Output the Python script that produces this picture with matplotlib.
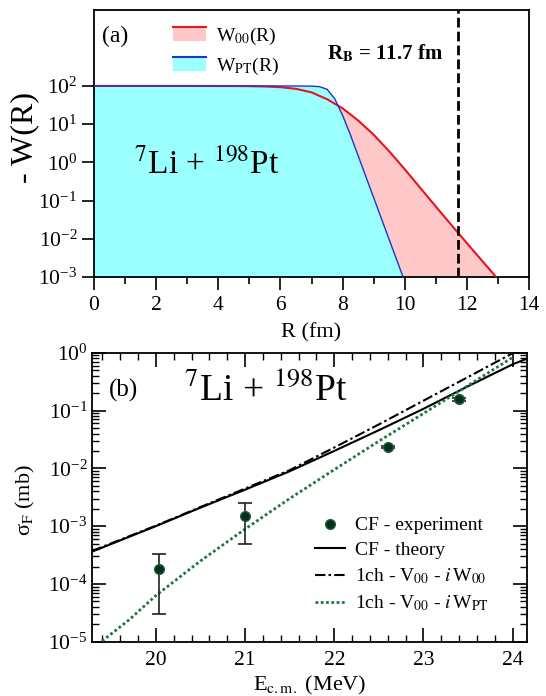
import matplotlib
matplotlib.use("Agg")
import matplotlib.pyplot as plt
import numpy as np
from matplotlib.ticker import (FixedLocator, MultipleLocator, LogLocator,
                               LogFormatterMathtext, NullFormatter)
from matplotlib.legend_handler import HandlerBase
from matplotlib.patches import Rectangle
from matplotlib.lines import Line2D

plt.rcParams['font.family'] = ['Liberation Serif', 'DejaVu Serif']
plt.rcParams['mathtext.fontset'] = 'stix'
plt.rcParams['axes.unicode_minus'] = False

# ---- panel (a): imaginary potentials ----
R_w00 = [0, 1, 2, 3, 4, 4.5, 5, 5.5, 6, 6.5, 7, 7.5, 8, 8.5, 9, 9.5,
         10, 10.5, 11, 11.5, 12, 12.5, 13, 13.5]
w00 = [100, 100, 100, 100, 99.8, 99.5, 98.8, 97, 93, 84, 68, 45, 26, 12.5,
       5.3, 1.95, 0.66, 0.215, 0.070, 0.023, 0.0077, 0.0026, 0.00088, 0.0003]

R_wpt = [0, 1, 2, 3, 4, 5, 6, 6.5, 7, 7.25, 7.5, 7.75, 8, 8.25, 8.5, 9,
         9.5, 10, 10.5]
wpt = [100, 100, 100, 100, 100, 100, 100, 99.8, 99, 96, 82, 46, 17, 5.3,
       1.5, 0.12, 0.0095, 0.00076, 0.00006]

r_barrier = 11.7

# ---- panel (b): fusion cross sections ----
E_exp = [20.04, 21.0, 22.6, 23.4]
sig_exp = [1.8e-4, 1.5e-3, 2.32e-2, 0.156]
sig_lo = [3.0e-5, 5.0e-4, 2.22e-2, 0.148]
sig_hi = [3.35e-4, 2.5e-3, 2.42e-2, 0.164]

E_th = [19.28, 20.0, 20.5, 21.0, 21.5, 22.0, 22.5, 23.0, 23.5, 24.0, 24.16]
cf_theory = [3.6e-4, 1.0e-3, 2.09e-3, 4.27e-3, 8.9e-3, 2.0e-2, 4.57e-2,
             0.107, 0.263, 0.63, 0.79]

E_w00 = [19.28, 20.0, 20.5, 21.0, 21.5, 22.0, 22.5, 23.0, 23.5, 24.0, 24.1]
sig_w00 = [3.7e-4, 1.02e-3, 2.14e-3, 4.47e-3, 9.3e-3, 2.29e-2, 5.75e-2,
           0.148, 0.38, 0.98, 1.15]

E_wpt = [19.35, 19.7, 20.0, 20.5, 21.0, 21.5, 22.0, 22.5, 23.0, 23.5, 24.0]
sig_wpt = [9.0e-6, 2.4e-5, 6.3e-5, 2.5e-4, 8.9e-4, 3.0e-3, 9.5e-3,
           2.95e-2, 8.9e-2, 0.27, 0.83]

labels_b = ['CF - experiment', 'CF - theory',
            r'1ch - V$_{00}$ - $i\,$W$_{00}$',
            r'1ch - V$_{00}$ - $i\,$W$_{\mathrm{PT}}$']


class FillLine:
    def __init__(self, face, edge):
        self.face = face
        self.edge = edge


class HandlerFillLine(HandlerBase):
    def create_artists(self, legend, orig_handle, xdescent, ydescent,
                       width, height, fontsize, trans):
        rect = Rectangle((-xdescent, -ydescent), width, height,
                         facecolor=orig_handle.face, edgecolor='none',
                         transform=trans)
        line = Line2D([-xdescent, -xdescent + width],
                      [-ydescent + height] * 2, color=orig_handle.edge,
                      lw=1.5, transform=trans)
        return [rect, line]


fig = plt.figure(figsize=(5.46, 6.96), dpi=100)
ax1 = fig.add_axes([0.1722, 0.602, 0.7967, 0.3843])
ax2 = fig.add_axes([0.168, 0.078, 0.797, 0.4152])

# ---------------- top panel ----------------
ax1.fill_between(R_w00, w00, 1e-3, color='#ffc8c8', lw=0, zorder=1)
ax1.fill_between(R_wpt, wpt, 1e-3, color='#99ffff', lw=0, zorder=2)
ax1.plot(R_w00, w00, color='#e8141e', lw=1.5, zorder=3)
ax1.plot(R_wpt, wpt, color='#2233cc', lw=1.0, zorder=4)
ax1.axvline(r_barrier, color='k', lw=2, dashes=(3.5, 1.5), zorder=5)

ax1.set_yscale('log')
ax1.set_xlim(0, 14)
ax1.set_ylim(1e-3, 1e4)
ax1.yaxis.set_major_locator(FixedLocator(10.0 ** np.arange(-3, 3)))
ax1.yaxis.set_major_formatter(LogFormatterMathtext())
ax1.yaxis.set_minor_locator(FixedLocator(
    [m * 10.0 ** k for k in range(-3, 2) for m in range(2, 10)]))
ax1.yaxis.set_minor_formatter(NullFormatter())
ax1.xaxis.set_major_locator(MultipleLocator(2))
ax1.xaxis.set_minor_locator(MultipleLocator(1))
ax1.tick_params(axis='y', which='major', direction='out', length=9,
                width=1.2, labelsize=15.5, pad=3)
ax1.tick_params(axis='y', which='minor', direction='in', length=3, width=0.8)
ax1.tick_params(axis='x', which='major', direction='out', length=9,
                width=1.2, labelsize=15.5, pad=5)
ax1.tick_params(axis='x', which='minor', direction='out', length=5, width=1.2)
for sp in ax1.spines.values():
    sp.set_linewidth(1.3)

ax1.set_xlabel('R (fm)', fontsize=16)
ax1.xaxis.set_label_coords(0.5, -0.21)
ax1.xaxis.label.set_va('center')
ax1.set_ylabel('- W(R)', fontsize=23)
ax1.yaxis.set_label_coords(-0.16, 0.52)
ax1.yaxis.label.set_va('center')

ax1.text(0.048, 0.90, '(a)', transform=ax1.transAxes, fontsize=17,
         ha='center', va='center')
ax1.text(0.536, 0.834, r'R$_{\mathbf{B}}$ = 11.7 fm', transform=ax1.transAxes,
         fontsize=15, fontweight='bold', ha='left', va='center')
ax1.text(0.26, 0.42, r'$^{7}$Li + $^{198}$Pt', transform=ax1.transAxes,
         fontsize=24, ha='center', va='center')

ax1.legend([FillLine('#ffc8c8', '#e8141e'), FillLine('#99ffff', '#2233cc')],
           ['W$_{00}$(R)', 'W$_{\\mathrm{PT}}$(R)'],
           handler_map={FillLine: HandlerFillLine()},
           loc='upper left', bbox_to_anchor=(0.182, 0.94), frameon=False,
           fontsize=14, handlelength=1.7, handleheight=0.7,
           handletextpad=0.5, labelspacing=0.45, borderpad=0,
           borderaxespad=0)

# ---------------- bottom panel ----------------
l_th, = ax2.plot(E_th, cf_theory, color='k', lw=1.5, zorder=3)
l_w00, = ax2.plot(E_w00, sig_w00, color='k', lw=1.5,
                  dashes=(5, 1.5, 1.2, 1.5), zorder=3)
l_wpt, = ax2.plot(E_wpt, sig_wpt, color='#1b7a3e', lw=2,
                  linestyle=(0, (1, 0.9)), zorder=3)
yerr = [np.array(sig_exp) - np.array(sig_lo),
        np.array(sig_hi) - np.array(sig_exp)]
ax2.errorbar(E_exp, sig_exp, yerr=yerr, fmt='none', ecolor='#222222',
             elinewidth=1.2, capsize=5, capthick=1.2, zorder=4)
l_exp, = ax2.plot(E_exp, sig_exp, 'o', ms=7, mfc='#06301c', mec='#1f5f3a',
                  mew=1, zorder=5)

ax2.set_yscale('log')
ax2.set_xlim(19.28, 24.16)
ax2.set_ylim(1e-5, 1)
ax2.xaxis.set_major_locator(MultipleLocator(1))
ax2.xaxis.set_minor_locator(MultipleLocator(0.2))
ax2.yaxis.set_major_locator(LogLocator(base=10, numticks=10))
ax2.yaxis.set_minor_locator(LogLocator(base=10, subs=np.arange(2, 10),
                                       numticks=20))
ax2.yaxis.set_minor_formatter(NullFormatter())
ax2.tick_params(which='both', direction='in', top=True, right=True)
ax2.tick_params(which='major', length=10, width=1.2, labelsize=15.5)
ax2.tick_params(which='minor', length=5, width=1.0)
ax2.tick_params(axis='x', which='major', pad=7)
ax2.tick_params(axis='y', which='major', pad=3)
for sp in ax2.spines.values():
    sp.set_linewidth(1.3)

ax2.set_xlabel(r'E$_{\mathrm{c.m.}}$ (MeV)', fontsize=16)
ax2.xaxis.set_label_coords(0.5, -0.15)
ax2.xaxis.label.set_va('center')
ax2.set_ylabel(r'σ$_{\mathrm{F}}$ (mb)', fontsize=16)
ax2.yaxis.set_label_coords(-0.152, 0.49)
ax2.yaxis.label.set_va('center')

ax2.text(0.072, 0.871, '(b)', transform=ax2.transAxes, fontsize=18,
         ha='center', va='center')
ax2.text(0.40, 0.868, r'$^{7}$Li + $^{198}$Pt', transform=ax2.transAxes,
         fontsize=27, ha='center', va='center')

ax2.legend([l_exp, l_th, l_w00, l_wpt], labels_b, loc='upper left',
           bbox_to_anchor=(0.513, 0.432), frameon=False, fontsize=14,
           handlelength=1.55, handletextpad=0.5, labelspacing=0.37,
           borderpad=0, borderaxespad=0)

fig.savefig('out.png', dpi=100)
